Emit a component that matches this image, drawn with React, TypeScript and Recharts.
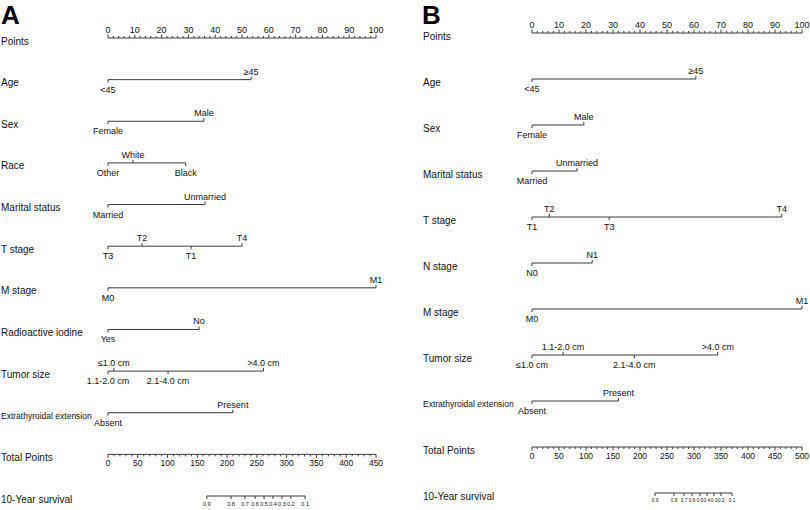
import React from "react";
import { ComposedChart, Line, XAxis, YAxis } from "recharts";

type Level = { label: string; points: number };

const FONT = "'Liberation Sans', Arial, Helvetica, sans-serif";

// ---------- shared ----------
const pointsMajor = [0, 10, 20, 30, 40, 50, 60, 70, 80, 90, 100];
const pointsMinorStep = 2;
const survivalLabels = ["0.9", "0.8", "0.7", "0.6", "0.5", "0.4", "0.3", "0.2", "0.1"];

// ---------- Panel A ----------
const rowNamesA = [
  "Points", "Age", "Sex", "Race", "Marital status", "T stage", "M stage",
  "Radioactive iodine", "Tumor size", "Extrathyroidal extension", "Total Points", "10-Year survival",
];
const ageA: Level[] = [{ label: "<45", points: 0 }, { label: "≥45", points: 53.4 }];
const sexA: Level[] = [{ label: "Female", points: 0 }, { label: "Male", points: 35.8 }];
const raceA: Level[] = [{ label: "Other", points: 0 }, { label: "White", points: 9.3 }, { label: "Black", points: 29 }];
const maritalA: Level[] = [{ label: "Married", points: 0 }, { label: "Unmarried", points: 36.2 }];
const tStageA: Level[] = [{ label: "T3", points: 0 }, { label: "T2", points: 12.7 }, { label: "T1", points: 31 }, { label: "T4", points: 50 }];
const mStageA: Level[] = [{ label: "M0", points: 0 }, { label: "M1", points: 100 }];
const raiA: Level[] = [{ label: "Yes", points: 0 }, { label: "No", points: 34 }];
const tumorA: Level[] = [
  { label: "1.1-2.0 cm", points: 0 }, { label: "≤1.0 cm", points: 2.2 },
  { label: "2.1-4.0 cm", points: 22.4 }, { label: ">4.0 cm", points: 58 },
];
const eteA: Level[] = [{ label: "Absent", points: 0 }, { label: "Present", points: 46.6 }];
const totalMajorA = [0, 50, 100, 150, 200, 250, 300, 350, 400, 450];
const totalMinorStepA = 10;
const survivalTotalA = [166, 206.5, 230, 247, 262, 277, 292, 307, 331];

// ---------- Panel B ----------
const rowNamesB = [
  "Points", "Age", "Sex", "Marital status", "T stage", "N stage", "M stage",
  "Tumor size", "Extrathyroidal extension", "Total Points", "10-Year survival",
];
const ageB: Level[] = [{ label: "<45", points: 0 }, { label: "≥45", points: 60.7 }];
const sexB: Level[] = [{ label: "Female", points: 0 }, { label: "Male", points: 19.2 }];
const maritalB: Level[] = [{ label: "Married", points: 0 }, { label: "Unmarried", points: 16.7 }];
const tStageB: Level[] = [{ label: "T1", points: 0 }, { label: "T2", points: 6.4 }, { label: "T3", points: 28.6 }, { label: "T4", points: 92.5 }];
const nStageB: Level[] = [{ label: "N0", points: 0 }, { label: "N1", points: 22.3 }];
const mStageB: Level[] = [{ label: "M0", points: 0 }, { label: "M1", points: 100 }];
const tumorB: Level[] = [
  { label: "≤1.0 cm", points: 0 }, { label: "1.1-2.0 cm", points: 11.5 },
  { label: "2.1-4.0 cm", points: 37.9 }, { label: ">4.0 cm", points: 68.8 },
];
const eteB: Level[] = [{ label: "Absent", points: 0 }, { label: "Present", points: 32 }];
const totalMajorB = [0, 50, 100, 150, 200, 250, 300, 350, 400, 450, 500];
const totalMinorStepB = 10;
const survivalTotalB = [227.8, 263, 281.5, 296.3, 311, 324, 337, 350, 370.4];

// ---------- builders ----------
const levelRow = (levels: Level[], row: number) =>
  [...levels]
    .sort((a, b) => a.points - b.points)
    .map((l, i) => ({ x: l.points, y: row, label: l.label, above: i % 2 === 1 }));

const axisRow = (majors: number[], minorStep: number, row: number) => {
  const max = majors[majors.length - 1];
  const out: { x: number; y: number; label: string; major: boolean }[] = [];
  for (let v = 0; v <= max + 1e-9; v += minorStep) {
    const major = majors.includes(v);
    out.push({ x: v, y: row, label: major ? String(v) : "", major });
  }
  return out;
};

const survRow = (totals: number[], row: number) =>
  totals.map((t, i) => ({ x: t, y: row, label: survivalLabels[i], major: true }));

const STROKE = "#3a3a3a";

const levelDot = (props: any) => {
  const { cx, cy, payload, index } = props;
  const up = payload.above;
  return (
    <g key={`lv-${index}-${payload.label}`}>
      <line x1={cx} x2={cx} y1={cy} y2={up ? cy - 3 : cy + 3} stroke={STROKE} strokeWidth={1} />
      <text
        x={cx}
        y={up ? cy - 8 : cy + 10}
        textAnchor="middle"
        dominantBaseline="central"
        fontSize={9}
        fontFamily={FONT}
        fill="#111"
      >
        {payload.label}
      </text>
    </g>
  );
};

const makeAxisDot = (up: boolean, fontSize: number, labelOffset: number, majorLen: number, minorLen: number) =>
  (props: any) => {
    const { cx, cy, payload, index } = props;
    const len = payload.major ? majorLen : minorLen;
    return (
      <g key={`ax-${index}`}>
        <line x1={cx} x2={cx} y1={cy} y2={up ? cy - len : cy + len} stroke={STROKE} strokeWidth={1} />
        {payload.label ? (
          <text
            x={cx}
            y={up ? cy - labelOffset : cy + labelOffset}
            textAnchor="middle"
            dominantBaseline="central"
            fontSize={fontSize}
            fontFamily={FONT}
            fill="#111"
          >
            {payload.label}
          </text>
        ) : null}
      </g>
    );
  };

const pointsDot = makeAxisDot(true, 9, 8.5, 3.5, 2);
const totalDot = makeAxisDot(false, 8.5, 9, 3.5, 2);
const survDotA = makeAxisDot(false, 5.5, 7.5, 3, 3);
const survDotB = makeAxisDot(false, 4.8, 7, 3, 3);

const rowTick = (names: string[], x0: number) => (props: any) => {
  const { y, payload } = props;
  const name = names[payload.value];
  const small = name === "Extrathyroidal extension";
  return (
    <text
      key={`rt-${payload.value}`}
      x={x0}
      y={y + 3}
      textAnchor="start"
      dominantBaseline="central"
      fontSize={small ? 8.5 : 10}
      fontFamily={FONT}
      fill="#111"
    >
      {name}
    </text>
  );
};

type PanelProps = {
  names: string[];
  levels: Level[][];
  totalMajor: number[];
  totalMinorStep: number;
  survTotals: number[];
  survDot: (p: any) => React.ReactElement;
  margin: { top: number; right: number; bottom: number; left: number };
  yWidth: number;
  nameX: number;
};

const Panel = ({ names, levels, totalMajor, totalMinorStep, survTotals, survDot, margin, yWidth, nameX }: PanelProps) => {
  const n = names.length;
  const totalRowIdx = n - 2;
  const survRowIdx = n - 1;
  const totalMax = totalMajor[totalMajor.length - 1];
  return (
    <ComposedChart width={405} height={510} margin={margin} style={{ overflow: "visible" }}>
      <XAxis xAxisId="pts" type="number" dataKey="x" domain={[0, 100]} hide />
      <XAxis xAxisId="tot" type="number" dataKey="x" domain={[0, totalMax]} hide />
      <YAxis
        type="number"
        dataKey="y"
        domain={[0, n - 1]}
        reversed
        width={yWidth}
        ticks={names.map((_, i) => i)}
        interval={0}
        axisLine={false}
        tickLine={false}
        tick={rowTick(names, nameX)}
      />
      <Line
        xAxisId="pts"
        data={axisRow(pointsMajor, pointsMinorStep, 0)}
        dataKey="y"
        stroke={STROKE}
        strokeWidth={1}
        dot={pointsDot}
        activeDot={false}
        isAnimationActive={false}
      />
      {levels.map((lv, i) => (
        <Line
          key={`row-${i}`}
          xAxisId="pts"
          data={levelRow(lv, i + 1)}
          dataKey="y"
          stroke={STROKE}
          strokeWidth={1}
          dot={levelDot}
          activeDot={false}
          isAnimationActive={false}
        />
      ))}
      <Line
        xAxisId="tot"
        data={axisRow(totalMajor, totalMinorStep, totalRowIdx)}
        dataKey="y"
        stroke={STROKE}
        strokeWidth={1}
        dot={totalDot}
        activeDot={false}
        isAnimationActive={false}
      />
      <Line
        xAxisId="tot"
        data={survRow(survTotals, survRowIdx)}
        dataKey="y"
        stroke={STROKE}
        strokeWidth={1}
        dot={survDot}
        activeDot={false}
        isAnimationActive={false}
      />
    </ComposedChart>
  );
};

const letterStyle = (left: number): React.CSSProperties => ({
  position: "absolute",
  left,
  top: 1,
  fontFamily: FONT,
  fontWeight: 900,
  fontSize: 26,
  lineHeight: "28px",
  color: "#000",
});

export default function App() {
  return (
    <div style={{ position: "absolute", left: 0, top: 0, width: 810, height: 510, background: "#fff" }}>
      <div style={{ position: "absolute", left: 0, top: 0 }}>
        <Panel
          names={rowNamesA}
          levels={[ageA, sexA, raceA, maritalA, tStageA, mStageA, raiA, tumorA, eteA]}
          totalMajor={totalMajorA}
          totalMinorStep={totalMinorStepA}
          survTotals={survivalTotalA}
          survDot={survDotA}
          margin={{ top: 38, right: 29, bottom: 14, left: 0 }}
          yWidth={108}
          nameX={1}
        />
      </div>
      <div style={{ position: "absolute", left: 405, top: 0 }}>
        <Panel
          names={rowNamesB}
          levels={[ageB, sexB, maritalB, tStageB, nStageB, mStageB, tumorB, eteB]}
          totalMajor={totalMajorB}
          totalMinorStep={totalMinorStepB}
          survTotals={survivalTotalB}
          survDot={survDotB}
          margin={{ top: 33, right: 8, bottom: 17, left: 0 }}
          yWidth={127}
          nameX={18}
        />
      </div>
      <div style={letterStyle(1)}>A</div>
      <div style={letterStyle(422)}>B</div>
    </div>
  );
}
